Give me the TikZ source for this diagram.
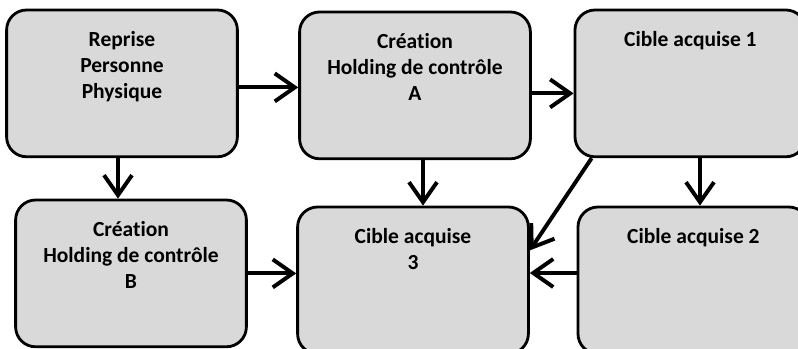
\documentclass[tikz,border=0pt]{standalone}
\usepackage{fontspec}
\setmainfont[Ligatures=NoCommon]{Carlito}
\usetikzlibrary{arrows.meta}
\usetikzlibrary{calc}

\definecolor{boxgray}{RGB}{217,217,217}

\tikzset{
  cadre/.style={draw,fill=boxgray,rounded corners=0.5cm,line width=2pt,
    inner sep=0pt,minimum width=5.77cm,minimum height=3.67cm,
    font=\bfseries\fontsize{15.3}{18.5}\selectfont},
  fleche/.style={line width=2.8pt,-{Straight Barb[length=5mm,width=7mm]}}
}

% one step of the montage: name, position, text (top of the box)
\newcommand{\etape}[3]{%
  \node[cadre] (#1) at #2
    {\parbox[c][3.67cm][t]{5.6cm}{\centering\rule{0pt}{0.91cm}#3}};
}

\begin{document}
\begin{tikzpicture}
  \path[use as bounding box] (0,0) rectangle (19.95,8.725);
  \clip (0,0) rectangle (19.95,8.725);

  \etape{rep}{(3.05,6.64)}{Reprise\\Personne\\Physique}
  \etape{crA}{(10.375,6.59)}{Création\\Holding de contrôle\\A}
  \etape{c1}{(17.26,6.64)}{Cible acquise 1}
  \etape{crB}{(3.275,1.89)}{Création\\Holding de contrôle\\B}
  \etape{c3}{(10.325,1.715)}{Cible acquise\\3}
  \etape{c2}{(17.335,1.715)}{Cible acquise 2}

  % top row
  \draw[fleche] ([yshift=-1mm]rep.east) -- ([yshift=-1mm]rep.east -| crA.west);
  \draw[fleche] ([yshift=-2mm]crA.east) -- ([yshift=-2mm]crA.east -| c1.west);
  % down
  \draw[fleche] ([xshift=-1mm]rep.south) -- ([xshift=-1mm]rep.south |- crB.north);
  \draw[fleche] ([xshift=2mm]crA.south) -- ([xshift=2mm]crA.south |- c3.north);
  \draw[fleche] ([xshift=2.4mm]c1.south) -- ([xshift=2.4mm]c1.south |- c2.north);
  % into cible 3
  \draw[fleche] ([xshift=4.5mm]c1.south west) -- ([yshift=7.5mm]c3.east);
  \draw[fleche] ([yshift=1.85mm]c2.west) -- ([yshift=1.85mm]c2.west -| c3.east);
  \draw[fleche] (crB.east) -- (crB.east -| c3.west);
\end{tikzpicture}
\end{document}
